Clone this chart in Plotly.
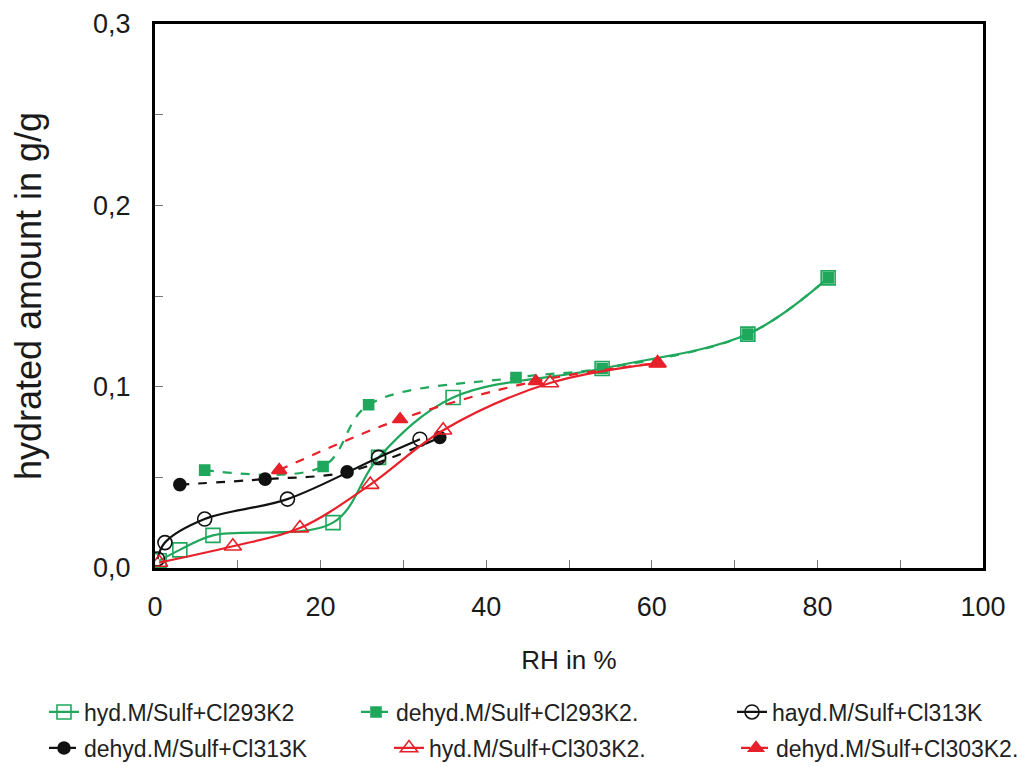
import plotly.graph_objects as go

# ---- data ----
rh_hyd293 = [0.5, 3.0, 7.0, 21.5, 27.0, 36.0, 54.0, 71.6, 81.3]
amt_hyd293 = [0.004, 0.010, 0.018, 0.025, 0.061, 0.094, 0.110, 0.129, 0.160]

rh_dehyd293 = [6.0, 20.3, 25.8, 43.6, 54.0, 71.6, 81.3]
amt_dehyd293 = [0.054, 0.056, 0.090, 0.105, 0.110, 0.129, 0.160]

rh_hyd313 = [0.3, 1.2, 6.0, 16.0, 27.0, 32.0]
amt_hyd313 = [0.005, 0.014, 0.027, 0.038, 0.061, 0.071]

rh_dehyd313 = [3.0, 13.3, 23.2, 34.4]
amt_dehyd313 = [0.046, 0.049, 0.053, 0.072]

rh_hyd303 = [0.5, 9.4, 17.5, 26.0, 34.8, 47.7, 60.7]
amt_hyd303 = [0.003, 0.012, 0.022, 0.046, 0.076, 0.102, 0.113]

rh_dehyd303 = [15.0, 29.6, 46.0, 60.7]
amt_dehyd303 = [0.054, 0.082, 0.103, 0.113]

names = ["hyd.M/Sulf+Cl293K2", "dehyd.M/Sulf+Cl293K2.", "hayd.M/Sulf+Cl313K",
         "dehyd.M/Sulf+Cl313K", "hyd.M/Sulf+Cl303K2.", "dehyd.M/Sulf+Cl303K2."]

GREEN = "#1fa85c"
RED = "#e8202a"
BLACK = "#111111"

series = [
    (rh_hyd293, amt_hyd293, names[0], GREEN, "solid", "square-open", 14),
    (rh_dehyd293, amt_dehyd293, names[1], GREEN, "dash", "square", 10),
    (rh_hyd313, amt_hyd313, names[2], BLACK, "solid", "circle-open", 14),
    (rh_dehyd313, amt_dehyd313, names[3], BLACK, "dash", "circle", 12),
    (rh_hyd303, amt_hyd303, names[4], RED, "solid", "triangle-up-open", 15),
    (rh_dehyd303, amt_dehyd303, names[5], RED, "dash", "triangle-up", 13),
]

# page offset from the default body margin of the html page
OFF = 8
W, H = 1036 - OFF, 767 - OFF

# legend text start positions (page px) in the reference
leg_pos = [(85, 712), (397, 712), (773, 712), (85, 748), (430, 748), (777, 748)]

fig = go.Figure()
for i, (x, y, name, col, dash, sym, size) in enumerate(series):
    lg = "legend" if i == 0 else f"legend{i+1}"
    fig.add_trace(go.Scatter(
        x=x, y=y, name=name, mode="lines+markers",
        line=dict(color=col, width=2.2, dash=dash, shape="spline", smoothing=1),
        marker=dict(symbol=sym, size=size, color=col, line=dict(color=col, width=1.6)),
        legend=lg,
    ))

font_family = "Arial, Liberation Sans, sans-serif"
legends = {}
for i, (tx, ty) in enumerate(leg_pos):
    key = "legend" if i == 0 else f"legend{i+1}"
    legends[key] = dict(
        xref="container", yref="container",
        x=(tx - 49) / W, y=1 - (ty - OFF) / H, xanchor="left", yanchor="middle",
        orientation="h", bgcolor="rgba(0,0,0,0)", borderwidth=0,
        font=dict(size=23, color="#222222", family=font_family),
    )

fig.update_layout(
    width=W, height=H,
    margin=dict(l=155 - OFF, r=53, t=24 - OFF, b=199, autoexpand=False),
    plot_bgcolor="white", paper_bgcolor="white",
    separators=", ",
    font=dict(family=font_family, color="#1a1a1a"),
    showlegend=True,
    xaxis=dict(
        range=[0, 100], tick0=0, dtick=20, ticks="inside", ticklen=8, tickwidth=1,
        tickcolor="#777777", showline=True, linecolor="black", linewidth=3, mirror=True,
        showgrid=False, zeroline=False, tickfont=dict(size=27), automargin=False,
        ticklabelstandoff=13,
        minor=dict(dtick=10, ticks="inside", ticklen=8, tickwidth=1, tickcolor="#777777"),
        title=dict(text="RH in %", font=dict(size=26), standoff=30),
    ),
    yaxis=dict(
        range=[0, 0.3], tick0=0, dtick=0.1, tickformat=".1f", ticks="inside", ticklen=8,
        tickwidth=1, tickcolor="#777777", showline=True, linecolor="black", linewidth=3,
        mirror=True, showgrid=False, zeroline=False, tickfont=dict(size=27), automargin=False,
        ticklabelstandoff=16,
        minor=dict(dtick=0.05, ticks="inside", ticklen=8, tickwidth=1, tickcolor="#777777"),
        title=dict(text="hydrated amount in g/g", font=dict(size=36), standoff=44),
    ),
    **legends,
)

fig.write_html("out.html")
